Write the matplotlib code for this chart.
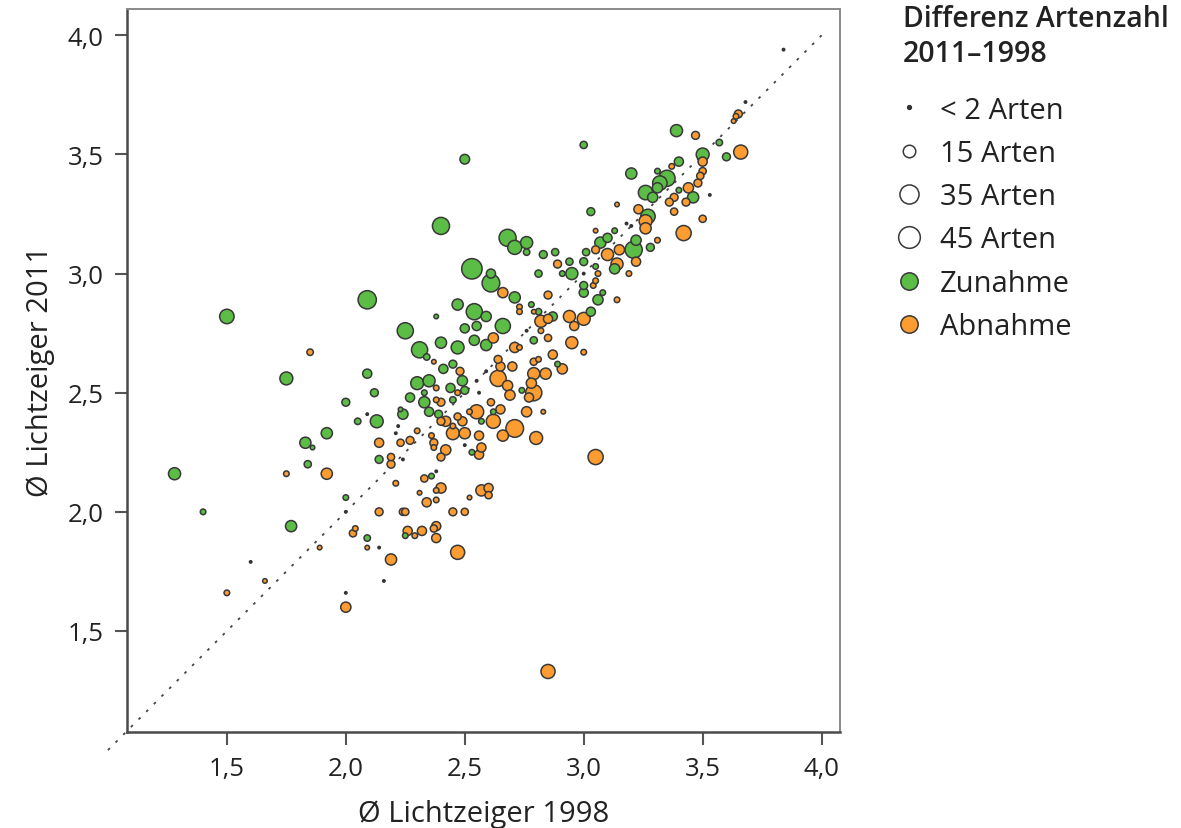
import matplotlib.pyplot as plt
from matplotlib.lines import Line2D
import numpy as np

plt.rcParams['font.family'] = ['Open Sans', 'DejaVu Sans']

# Zunahme (gruen): x = Ø Lichtzeiger 1998, y = Ø Lichtzeiger 2011, n = Differenz Artenzahl
zun_x = [1.50, 1.28, 1.40, 1.75, 1.83, 1.86, 1.92, 1.84, 1.77, 2.09,
         2.40, 2.50, 3.00, 2.53, 2.47, 2.54, 2.38, 2.25, 2.40, 2.47,
         2.50, 2.55, 2.54, 2.31, 2.34, 2.09, 2.12, 2.00, 2.05, 2.13,
         2.41, 2.45, 2.30, 2.35, 2.44, 2.49, 2.50, 2.27, 2.33, 2.33,
         2.45, 2.24, 2.23, 2.35, 2.39, 2.53, 2.14, 2.36, 2.00, 2.09,
         2.25, 2.68, 2.71, 2.76, 2.76, 2.83, 2.61, 2.61, 2.81, 2.71,
         2.81, 2.78, 2.59, 2.66, 2.59, 2.79, 2.87, 3.03, 3.00, 3.00,
         3.08, 3.06, 2.89, 2.74, 2.62, 2.57, 3.39, 3.57, 3.50, 3.40,
         3.20, 3.31, 3.35, 3.32, 3.31, 3.40, 3.46, 3.26, 3.29, 3.03,
         3.27, 3.13, 3.28, 3.21, 3.22, 3.07, 3.10, 3.13, 3.05, 3.00,
         2.94, 2.95, 2.91, 2.88, 3.01, 3.60]
zun_y = [2.82, 2.16, 2.00, 2.56, 2.29, 2.27, 2.33, 2.20, 1.94, 2.89,
         3.20, 3.48, 3.54, 3.02, 2.87, 2.84, 2.82, 2.76, 2.71, 2.69,
         2.77, 2.78, 2.72, 2.68, 2.65, 2.58, 2.50, 2.46, 2.38, 2.38,
         2.60, 2.62, 2.54, 2.55, 2.52, 2.55, 2.51, 2.48, 2.50, 2.46,
         2.47, 2.41, 2.43, 2.42, 2.41, 2.25, 2.22, 2.15, 2.06, 1.89,
         1.90, 3.15, 3.11, 3.13, 3.09, 3.08, 3.00, 2.96, 3.00, 2.90,
         2.84, 2.87, 2.82, 2.78, 2.70, 2.72, 2.82, 2.84, 2.95, 2.92,
         2.92, 2.89, 2.62, 2.51, 2.42, 2.38, 3.60, 3.55, 3.50, 3.47,
         3.42, 3.43, 3.40, 3.38, 3.36, 3.35, 3.32, 3.34, 3.32, 3.26,
         3.24, 3.18, 3.11, 3.10, 3.14, 3.13, 3.15, 3.02, 3.03, 3.05,
         3.05, 3.00, 3.00, 3.09, 3.09, 3.49]
zun_n = [20, 14, 3, 16, 12, 2, 12, 5, 12, 32,
         28, 9, 5, 40, 12, 25, 2, 25, 12, 16,
         8, 8, 10, 25, 4, 8, 6, 6, 4, 16,
         8, 6, 16, 14, 8, 10, 6, 8, 3, 12,
         4, 10, 2, 8, 6, 3, 6, 3, 3, 4,
         3, 28, 19, 14, 4, 6, 8, 30, 5, 12,
         4, 3, 10, 22, 12, 5, 8, 8, 6, 8,
         3, 10, 3, 3, 3, 3, 14, 4, 16, 8,
         12, 3, 25, 20, 10, 3, 12, 20, 10, 6,
         20, 3, 6, 28, 10, 12, 8, 10, 3, 6,
         5, 14, 3, 5, 5, 6]

# Abnahme (orange)
abn_x = [1.85, 1.92, 1.75, 1.50, 1.66, 2.00, 2.19, 2.47, 2.85, 3.05,
         1.89, 2.09, 2.37, 2.48, 2.38, 2.47, 2.38, 2.40, 2.55, 2.42,
         2.47, 2.49, 2.45, 2.45, 2.50, 2.40, 2.36, 2.30, 2.14, 2.23,
         2.27, 2.37, 2.37, 2.42, 2.40, 2.56, 2.57, 2.56, 2.19, 2.19,
         2.33, 2.21, 2.40, 2.38, 2.57, 2.60, 2.60, 2.31, 2.34, 2.38,
         2.52, 2.14, 2.24, 2.25, 2.45, 2.50, 2.04, 2.03, 2.26, 2.29,
         2.32, 2.37, 2.38, 2.38, 2.66, 2.85, 2.73, 2.73, 2.79, 2.82,
         2.85, 2.62, 2.82, 2.85, 2.71, 2.73, 2.64, 2.65, 2.70, 2.79,
         2.81, 2.84, 2.79, 2.64, 2.68, 2.69, 2.78, 2.79, 2.77, 2.87,
         2.91, 2.94, 3.00, 2.96, 2.95, 3.00, 3.04, 3.05, 3.14, 2.61,
         2.65, 2.62, 2.71, 2.76, 2.83, 2.66, 2.80, 2.52, 3.47, 3.50,
         3.37, 3.50, 3.49, 3.48, 3.44, 3.43, 3.38, 3.36, 3.38, 3.50,
         3.14, 3.23, 3.26, 3.26, 3.42, 3.31, 3.05, 3.15, 3.10, 3.14,
         3.22, 3.19, 3.06, 2.89, 3.05, 3.65, 3.64, 3.63, 3.66]
abn_y = [2.67, 2.16, 2.16, 1.66, 1.71, 1.60, 1.80, 1.83, 1.33, 2.23,
         1.85, 1.85, 2.63, 2.59, 2.52, 2.50, 2.47, 2.46, 2.42, 2.38,
         2.40, 2.38, 2.36, 2.33, 2.33, 2.38, 2.32, 2.34, 2.29, 2.29,
         2.30, 2.29, 2.27, 2.26, 2.23, 2.24, 2.27, 2.32, 2.23, 2.20,
         2.14, 2.12, 2.10, 2.09, 2.09, 2.10, 2.07, 2.08, 2.04, 2.05,
         2.06, 2.00, 2.00, 2.00, 2.00, 2.00, 1.93, 1.91, 1.92, 1.90,
         1.92, 1.93, 1.94, 1.89, 2.92, 2.91, 2.86, 2.84, 2.84, 2.80,
         2.81, 2.73, 2.76, 2.73, 2.69, 2.69, 2.64, 2.61, 2.61, 2.63,
         2.64, 2.58, 2.58, 2.56, 2.53, 2.49, 2.54, 2.50, 2.48, 2.66,
         2.60, 2.82, 2.81, 2.78, 2.71, 2.67, 2.95, 2.97, 2.89, 2.46,
         2.43, 2.38, 2.35, 2.42, 2.42, 2.32, 2.31, 2.42, 3.58, 3.47,
         3.45, 3.43, 3.41, 3.38, 3.36, 3.30, 3.32, 3.30, 3.26, 3.23,
         3.29, 3.27, 3.22, 3.19, 3.17, 3.14, 3.18, 3.10, 3.08, 3.04,
         3.05, 3.00, 3.00, 3.04, 3.10, 3.67, 3.66, 3.64, 3.51]
abn_n = [4, 12, 3, 3, 2, 10, 12, 19, 19, 22,
         2, 2, 2, 6, 3, 3, 3, 6, 19, 10,
         5, 8, 3, 16, 12, 6, 3, 3, 8, 5,
         6, 6, 3, 10, 6, 8, 8, 8, 5, 6,
         5, 3, 10, 3, 12, 8, 5, 2, 8, 3,
         2, 6, 5, 5, 6, 5, 3, 5, 8, 3,
         8, 5, 8, 8, 10, 6, 3, 3, 2, 14,
         8, 10, 3, 5, 10, 3, 6, 8, 8, 5,
         3, 12, 14, 25, 10, 10, 10, 25, 8, 8,
         10, 14, 16, 8, 14, 3, 3, 3, 3, 5,
         8, 19, 30, 10, 2, 12, 16, 3, 6, 8,
         3, 5, 5, 6, 10, 6, 6, 6, 5, 5,
         2, 8, 16, 12, 22, 3, 2, 10, 14, 14,
         8, 3, 3, 6, 6, 6, 3, 2, 19]

# Differenz < 2 Arten
klein_x = [1.60, 2.00, 2.16, 2.14, 2.00, 2.09, 2.22, 2.21, 2.24, 2.38, 2.50,
           2.59, 2.55, 2.56, 2.76, 3.18, 3.20, 3.53, 3.00, 3.68, 3.84]
klein_y = [1.79, 1.66, 1.71, 1.85, 2.00, 2.41, 2.36, 2.33, 2.22, 2.17, 2.28,
           2.59, 2.55, 2.50, 2.76, 3.21, 3.20, 3.33, 3.00, 3.72, 3.94]

x_ticks = [1.5, 2.0, 2.5, 3.0, 3.5, 4.0]
tick_labels = ['1,5', '2,0', '2,5', '3,0', '3,5', '4,0']
legend_sizes = [15, 35, 45]

GREEN = '#5bbd45'
ORANGE = '#fd9c30'
EDGE = '#383838'
TEXT = '#222222'
SCALE = 5.4

fig = plt.figure(figsize=(11.81, 8.29), dpi=100)
ax = fig.add_axes([0.1075, 0.1158, 0.6035, 0.872])

# diagonal 1:1 line
ax.plot([1.0, 4.0], [1.0, 4.0], linestyle=(0, (1.5, 4.5)), color='#444444',
        linewidth=1.3, clip_on=False, zorder=1)

xs = np.array(zun_x + abn_x)
ys = np.array(zun_y + abn_y)
ns = np.array(zun_n + abn_n, dtype=float)
cols = np.array([GREEN] * len(zun_x) + [ORANGE] * len(abn_x))
order = np.argsort(-ns, kind='stable')
ax.scatter(xs[order], ys[order], s=ns[order] * SCALE, c=cols[order],
           edgecolors=EDGE, linewidths=1.1, zorder=2)
ax.scatter(klein_x, klein_y, s=8, c='#333333', edgecolors='none', zorder=3)

ax.set_xlim(1.08, 4.076)
ax.set_ylim(1.076, 4.11)
ax.set_xticks(x_ticks)
ax.set_xticklabels(tick_labels)
ax.set_yticks(x_ticks)
ax.set_yticklabels(tick_labels)
ax.tick_params(direction='out', length=9, width=1.5, color='#555555',
               labelsize=18.5, labelcolor=TEXT, pad=8)
for side in ['left', 'bottom']:
    ax.spines[side].set_color('#4a4a4a')
    ax.spines[side].set_linewidth(1.8)
for side in ['top', 'right']:
    ax.spines[side].set_color('#8a8a8a')
    ax.spines[side].set_linewidth(1.4)

ax.set_xlabel('Ø Lichtzeiger 1998', fontsize=21, color=TEXT, labelpad=13)
ax.set_ylabel('Ø Lichtzeiger 2011', fontsize=21, color=TEXT, labelpad=9)

# legend
fig.text(0.7646, 1 - 5 / 829, 'Differenz Artenzahl\n2011–1998', fontsize=20.5,
         fontweight='semibold', color=TEXT, ha='left', va='top', linespacing=1.25)

handles = [Line2D([], [], marker='o', linestyle='', markersize=2.8,
                  markerfacecolor='#333333', markeredgecolor='#333333')]
for n in legend_sizes:
    handles.append(Line2D([], [], marker='o', linestyle='',
                          markersize=np.sqrt(n * SCALE),
                          markerfacecolor='white', markeredgecolor=EDGE,
                          markeredgewidth=1.1))
for col in [GREEN, ORANGE]:
    handles.append(Line2D([], [], marker='o', linestyle='', markersize=12.5,
                          markerfacecolor=col, markeredgecolor=EDGE,
                          markeredgewidth=1.1))
labels = ['< 2 Arten', '15 Arten', '35 Arten', '45 Arten', 'Zunahme', 'Abnahme']
leg = fig.legend(handles, labels, loc='upper left', bbox_to_anchor=(0.748, 1 - 82 / 829),
                 frameon=False, fontsize=21, labelspacing=0.49,
                 handletextpad=0.7, handlelength=0.75, borderpad=0.0)
for t in leg.get_texts():
    t.set_color(TEXT)

fig.savefig('out.png', dpi=100)
